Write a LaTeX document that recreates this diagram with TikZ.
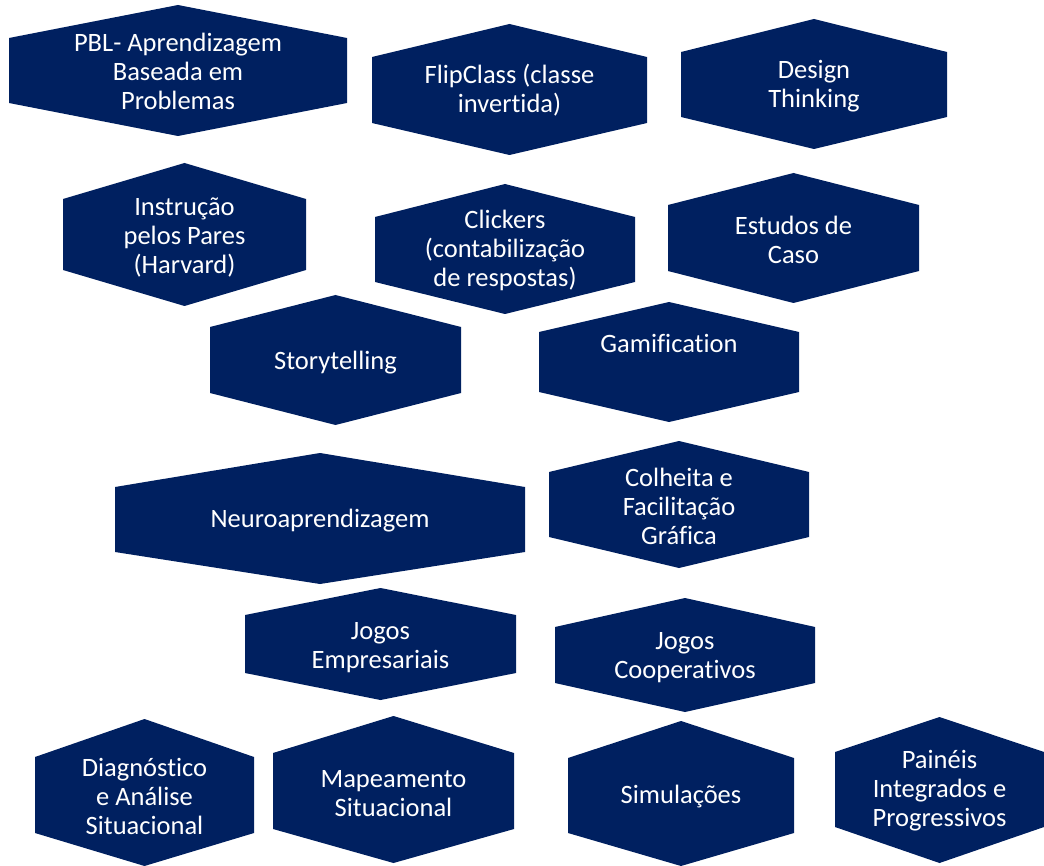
\documentclass[tikz,border=0pt]{standalone}
\usepackage{fontspec}
\setmainfont[Ligatures=NoCommon,RawFeature=-liga]{Carlito}
\definecolor{navy}{RGB}{0,32,96}
\tikzset{
  hexfill/.style={fill=navy},
  lbl/.style={text=white, align=center, font=\fontsize{26.5}{29}\selectfont, inner sep=0pt, yshift=-1.5pt}
}
% #1 name, #2 left, #3 right, #4 top apex, #5 upper shoulder, #6 lower shoulder, #7 bottom apex, #8 text, #9 text y
\newcommand{\hexshape}[9]{%
  \pgfmathsetmacro\hcx{(#2+#3)/2}%
  \fill[hexfill] (\hcx,#4) -- (#3,#5) -- (#3,#6) -- (\hcx,#7) -- (#2,#6) -- (#2,#5) -- cycle;
  \node[lbl] (#1) at (\hcx,#9) {#8};%
}
\begin{document}
\begin{tikzpicture}[x=1pt,y=-1pt]
\fill[white] (0,0) rectangle (1044,866);
\useasboundingbox (0,0) rectangle (1044,866);
\hexshape{pbl}{9}{347}{5}{38}{103}{136}{PBL- Aprendizagem\\Baseada em\\Problemas}{70}
\hexshape{flip}{372}{647}{24}{57}{123}{155}{FlipClass (classe\\invertida)}{89}
\hexshape{design}{681}{947}{19}{52}{117}{149}{Design\\Thinking}{85}
\hexshape{instr}{63}{306}{163}{199}{270}{306}{Instrução\\pelos Pares\\(Harvard)}{236}
\hexshape{click}{375}{635}{184}{217}{282}{314}{Clickers\\(contabilização\\de respostas)}{249}
\hexshape{estudos}{668}{919}{173}{205}{271}{303}{Estudos de\\Caso}{238}
\hexshape{story}{210}{461}{295}{327}{393}{425}{Storytelling}{361}
\hexshape{gamif}{539}{799}{302}{332}{392}{422}{Gamification}{342}
\hexshape{neuro}{115}{525}{453}{487}{552}{584}{Neuroaprendizagem}{519}
\hexshape{colheita}{549}{809}{441}{472}{537}{568}{Colheita e\\Facilitação\\Gráfica}{505}
\hexshape{jemp}{245}{516}{588}{615}{673}{700}{Jogos\\Empresariais}{646}
\hexshape{jcoop}{555}{815}{598}{627}{683}{712}{Jogos\\Cooperativos}{656}
\hexshape{diag}{35}{254}{719}{757}{833}{866}{Diagnóstico\\e Análise\\Situacional}{795}
\hexshape{mapa}{273}{514}{716}{753}{829}{863}{Mapeamento\\Situacional}{792}
\hexshape{simul}{568}{794}{721}{758}{833}{866}{Simulações}{795}
\hexshape{paineis}{835}{1044}{717}{752}{827}{863}{Painéis\\Integrados e\\Progressivos}{789}
\end{tikzpicture}
\end{document}
